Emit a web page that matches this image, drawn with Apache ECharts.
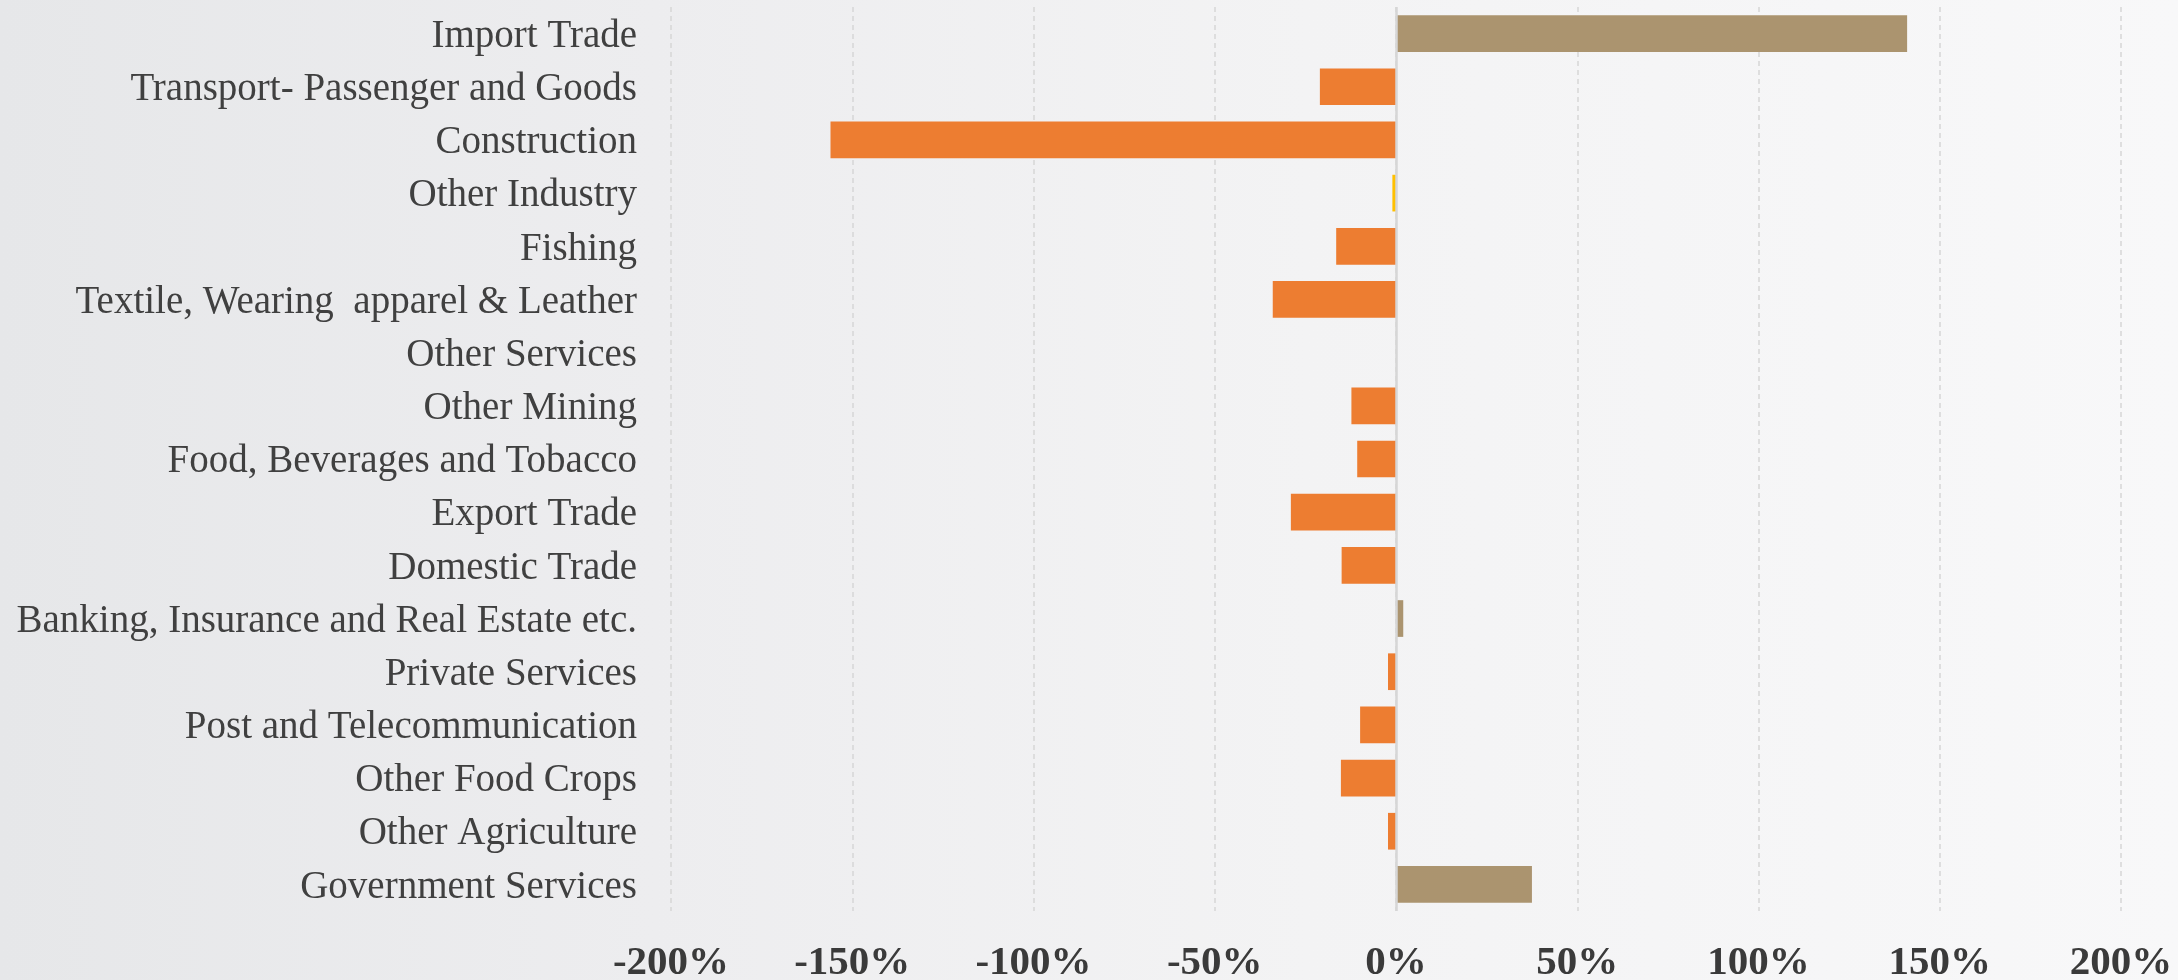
<!DOCTYPE html>
<html>
<head>
<meta charset="utf-8">
<script src="https://cdn.jsdelivr.net/npm/echarts@6/dist/echarts.min.js"></script>
<style>
  html, body { margin: 0; padding: 0; }
  body {
    width: 2178px; height: 980px; overflow: hidden;
    background: linear-gradient(to right, #E6E7E9 0%, #EDEDEF 30%, #F3F3F4 60%, #F8F8F9 100%);
  }
  #chart { width: 2178px; height: 980px; }
</style>
</head>
<body>
<div id="chart"></div>
<script>
// Sectors, listed top to bottom
const categories = [
  'Import Trade',
  'Transport- Passenger and Goods',
  'Construction',
  'Other Industry',
  'Fishing',
  'Textile, Wearing  apparel & Leather',
  'Other Services',
  'Other Mining',
  'Food, Beverages and Tobacco',
  'Export Trade',
  'Domestic Trade',
  'Banking, Insurance and Real Estate etc.',
  'Private Services',
  'Post and Telecommunication',
  'Other Food Crops',
  'Other Agriculture',
  'Government Services'
];

// Change, in percent
const values = [141, -21, -156, -1, -16.5, -34, 0, -12.3, -10.7, -29, -15, 2, -2.2, -9.9, -15.2, -2.2, 37.5];

// Axis ticks (percent)
const axisMin = -200;
const axisMax = 200;
const axisStep = 50;

// Sector drawn in the accent colour
const accentSectors = ['Other Industry'];

const COLOR_UP = '#AB946F';
const COLOR_DOWN = '#ED7D31';
const COLOR_ACCENT = '#FFC000';

// Category axis runs top to bottom, so reverse for ECharts (bottom-up)
const cats = categories.slice().reverse();
const vals = values.slice().reverse();

const seriesData = cats.map((c, i) => {
  const v = vals[i];
  let color = v >= 0 ? COLOR_UP : COLOR_DOWN;
  if (accentSectors.indexOf(c) >= 0) color = COLOR_ACCENT;
  return { value: v, itemStyle: { color: color } };
});

const chart = echarts.init(document.getElementById('chart'), null, { renderer: 'canvas' });

chart.setOption({
  backgroundColor: 'transparent',
  animation: false,
  grid: {
    left: 671, right: 57, top: 7, bottom: 69,
    containLabel: false,
    outerBoundsMode: 'none'
  },
  xAxis: {
    type: 'value',
    min: axisMin,
    max: axisMax,
    interval: axisStep,
    axisLine: { show: false },
    axisTick: { show: false },
    splitLine: {
      show: true,
      lineStyle: { color: '#D6D6D6', type: [5, 4], width: 1.5 }
    },
    axisLabel: {
      formatter: '{value}%',
      fontFamily: 'Liberation Serif',
      fontWeight: 'bold',
      fontSize: 41,
      color: '#3A3A3A',
      margin: 32
    }
  },
  yAxis: {
    type: 'category',
    data: cats,
    axisLine: { show: false, onZero: false },
    axisTick: { show: false },
    splitLine: { show: false },
    axisLabel: {
      fontFamily: 'Liberation Serif',
      fontSize: 39,
      color: '#404040',
      margin: 34,
      verticalAlign: 'top',
      lineHeight: 6
    }
  },
  series: [{
    type: 'bar',
    data: seriesData,
    barCategoryGap: '31%',
    markLine: {
      silent: true,
      symbol: 'none',
      label: { show: false },
      lineStyle: { color: '#D6D6D6', type: 'solid', width: 2.5 },
      data: [{ xAxis: 0 }]
    }
  }]
});
</script>
</body>
</html>
